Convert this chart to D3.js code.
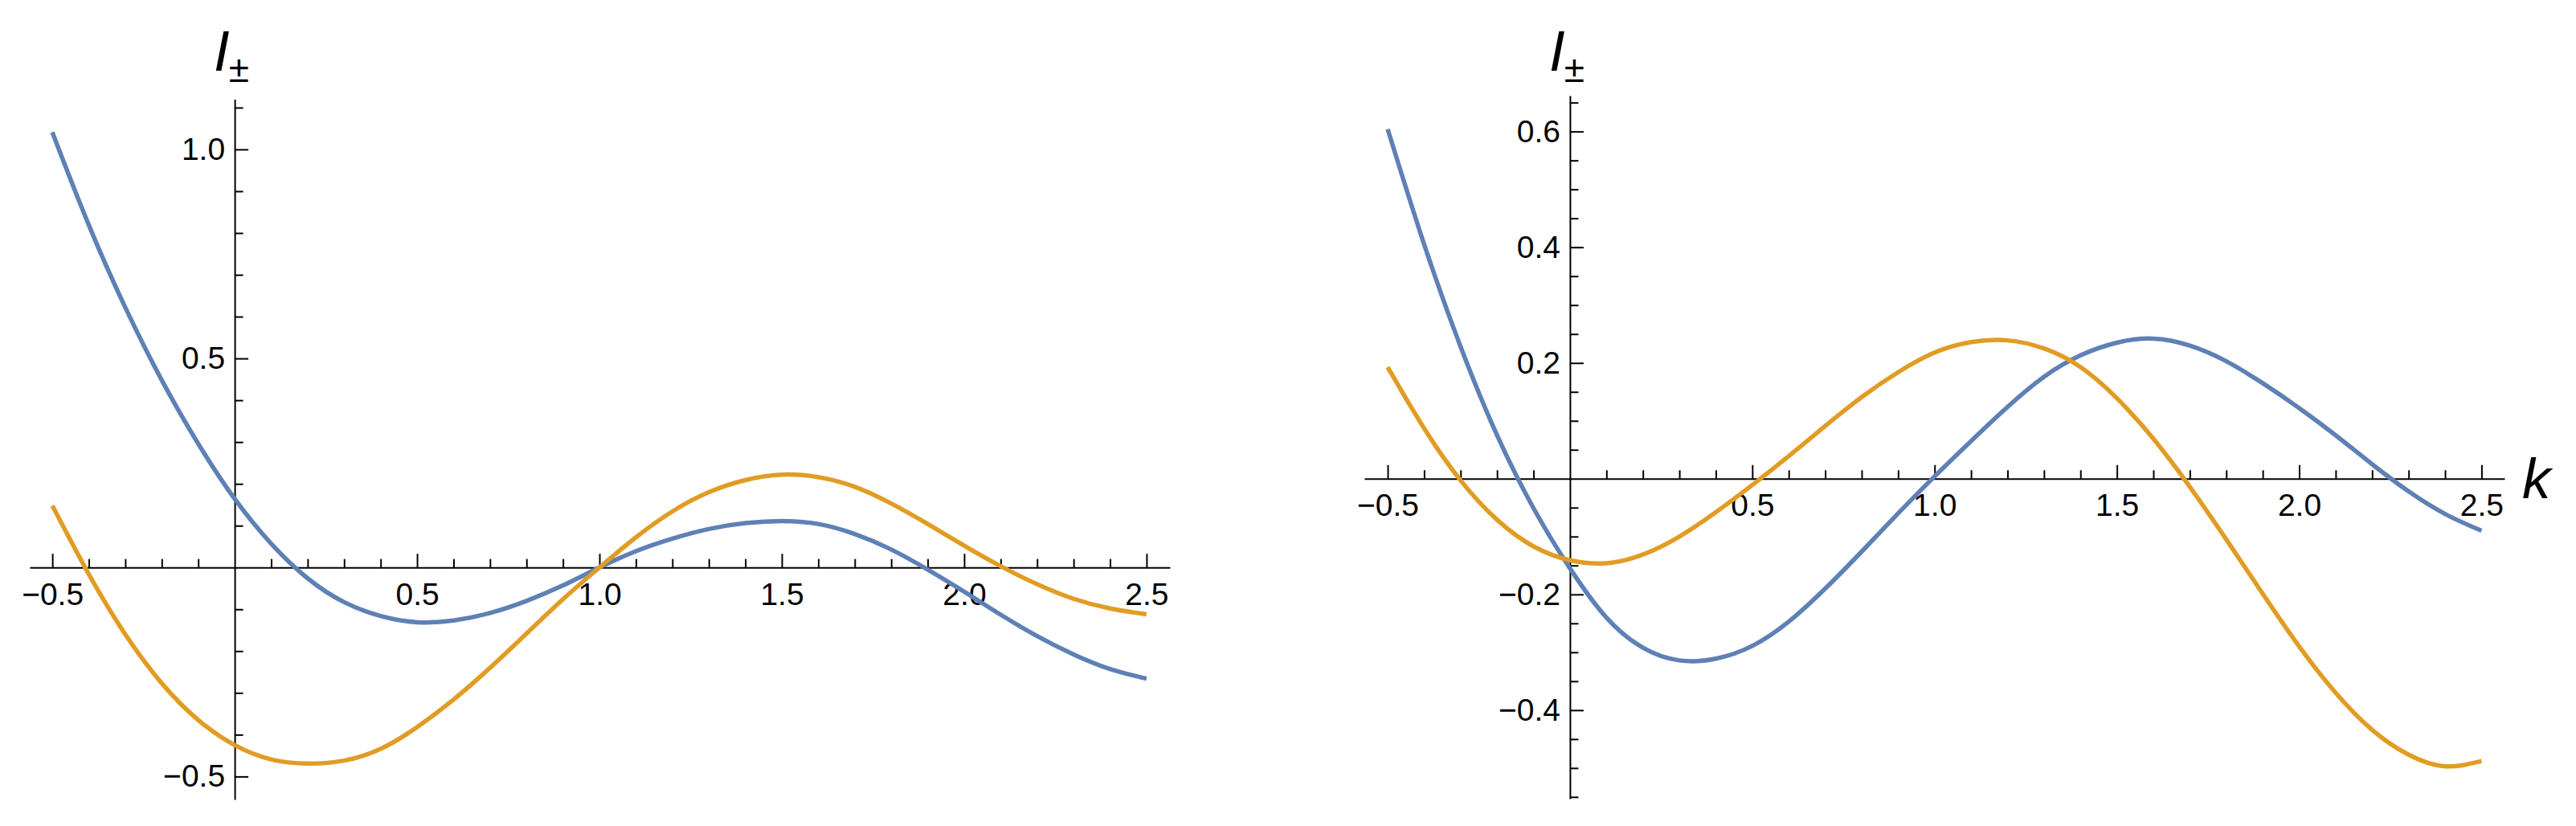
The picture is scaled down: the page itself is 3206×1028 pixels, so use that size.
<!DOCTYPE html>
<html>
<head>
<meta charset="utf-8">
<script src="https://cdn.jsdelivr.net/npm/d3@7"></script>
<style>
  body { margin: 0; background: #fff; }
  .tick text { font-family: "Liberation Sans", Arial, sans-serif; font-size: 39px; fill: #000; }
  .axis path, .axis line { stroke: #000; stroke-width: 2; }
  .axis-label { font-family: "Liberation Sans", Arial, sans-serif; fill: #000; }
</style>
</head>
<body>
<div id="chart-container"></div>
<script>
// k values the curves were read at
const kValues = [-0.5, -0.4, -0.3, -0.2, -0.1, 0.0, 0.1, 0.2, 0.3, 0.4, 0.5, 0.6, 0.7, 0.8, 0.9, 1.0,
                 1.1, 1.2, 1.3, 1.4, 1.5, 1.6, 1.7, 1.8, 1.9, 2.0, 2.1, 2.2, 2.3, 2.4, 2.5];

// left panel, I+ (blue) and I- (orange)
const leftBlue = [1.041, 0.819, 0.622, 0.448, 0.296, 0.164, 0.057, -0.026, -0.083, -0.116, -0.131,
                  -0.127, -0.109, -0.080, -0.043, 0.000, 0.039, 0.069, 0.092, 0.106, 0.111,
                  0.104, 0.080, 0.043, -0.005, -0.058, -0.113, -0.164, -0.208, -0.243, -0.266];
const leftOrange = [0.148, -0.016, -0.160, -0.277, -0.365, -0.425, -0.459, -0.469, -0.462, -0.434, -0.382,
                    -0.316, -0.240, -0.158, -0.076, 0.000, 0.072, 0.134, 0.180, 0.209, 0.222,
                    0.216, 0.193, 0.153, 0.104, 0.052, 0.003, -0.040, -0.075, -0.098, -0.112];

// right panel
const rightBlue = [0.604, 0.405, 0.228, 0.075, -0.051, -0.155, -0.240, -0.292, -0.314, -0.311, -0.289,
                   -0.247, -0.190, -0.126, -0.060, 0.004, 0.065, 0.124, 0.176, 0.213, 0.235,
                   0.242, 0.230, 0.203, 0.165, 0.122, 0.075, 0.025, -0.022, -0.061, -0.090];
const rightOrange = [0.193, 0.087, -0.003, -0.071, -0.117, -0.141, -0.146, -0.131, -0.100, -0.058, -0.011,
                     0.039, 0.091, 0.141, 0.184, 0.218, 0.236, 0.239, 0.225, 0.193, 0.139,
                     0.069, -0.014, -0.105, -0.199, -0.290, -0.370, -0.434, -0.477, -0.497, -0.488];

// tick labels
const xMajor = [-0.5, 0.5, 1.0, 1.5, 2.0, 2.5];
const leftYMajor = [-0.5, 0.5, 1.0];
const rightYMajor = [-0.4, -0.2, 0.2, 0.4, 0.6];

const blue = "#5E81B5";
const orange = "#E19C24";

const W = 3206, H = 1028;

const svg = d3.select("#chart-container")
  .append("svg")
  .attr("width", W)
  .attr("height", H);

// minor tick positions (skip majors and the origin)
function minorTicks(lo, hi, step, majors) {
  const out = [];
  for (let i = Math.round(lo / step); i <= Math.round(hi / step); i++) {
    const v = Math.round(i * step * 1000) / 1000;
    if (v === 0) continue;
    if (majors.some(m => Math.abs(m - v) < 1e-6)) continue;
    out.push(v);
  }
  return out;
}

function drawPanel(p) {
  const x = d3.scaleLinear().domain(p.xDomain).range(p.xRange);
  const y = d3.scaleLinear().domain(p.yDomain).range(p.yRange);
  const g = svg.append("g");

  // x axis: minor then major ticks pointing up
  g.append("g")
    .attr("class", "axis")
    .attr("transform", `translate(0,${y(0)})`)
    .call(d3.axisBottom(x).tickValues(minorTicks(-0.5, 2.5, 0.1, xMajor)).tickSize(-10.5).tickSizeOuter(0).tickFormat(""))
    .call(s => s.select(".domain").remove());

  g.append("g")
    .attr("class", "axis")
    .attr("transform", `translate(0,${y(0)})`)
    .call(d3.axisBottom(x).tickValues(xMajor).tickSize(-17).tickSizeOuter(0).tickPadding(19)
      .tickFormat(d3.format(".1f")));

  // y axis: ticks pointing right, labels on the left
  g.append("g")
    .attr("class", "axis")
    .attr("transform", `translate(${x(0)},0)`)
    .call(d3.axisLeft(y).tickValues(minorTicks(p.yTickLo, p.yTickHi, p.yMinor, p.yMajor)).tickSize(-10.5).tickSizeOuter(0).tickFormat(""))
    .call(s => s.select(".domain").remove());

  g.append("g")
    .attr("class", "axis")
    .attr("transform", `translate(${x(0)},0)`)
    .call(d3.axisLeft(y).tickValues(p.yMajor).tickSize(-17).tickSizeOuter(0).tickPadding(12)
      .tickFormat(d3.format(".1f")));

  // curves
  const line = d3.line()
    .x((d, i) => x(kValues[i]))
    .y(d => y(d))
    .curve(d3.curveNatural);

  [[p.blue, blue], [p.orange, orange]].forEach(([vals, col]) => {
    g.append("path")
      .datum(vals)
      .attr("fill", "none")
      .attr("stroke", col)
      .attr("stroke-width", 5.5)
      .attr("d", line);
  });

  // I± label above the y axis
  const lab = g.append("text")
    .attr("class", "axis-label")
    .attr("x", x(0) - 26)
    .attr("y", 88);
  lab.append("tspan").style("font-style", "italic").style("font-size", "71px").text("I");
  lab.append("tspan").attr("dy", 14).attr("dx", -1).style("font-size", "46px").text("±");

  return { x, y };
}

drawPanel({
  xDomain: [-0.562, 2.564], xRange: [37, 1456],
  yDomain: [-0.555, 1.12], yRange: [995, 123.5],
  yMajor: leftYMajor, yMinor: 0.1, yTickLo: -0.5, yTickHi: 1.1,
  blue: leftBlue, orange: leftOrange
});

const right = drawPanel({
  xDomain: [-0.564, 2.563], xRange: [1698, 3117],
  yDomain: [-0.553, 0.662], yRange: [994, 119],
  yMajor: rightYMajor, yMinor: 0.05, yTickLo: -0.55, yTickHi: 0.65,
  blue: rightBlue, orange: rightOrange
});

// k label at the end of the right x axis
svg.append("text")
  .attr("class", "axis-label")
  .attr("x", 3139)
  .attr("y", right.y(0) + 24)
  .style("font-style", "italic")
  .style("font-size", "71px")
  .text("k");
</script>
</body>
</html>
